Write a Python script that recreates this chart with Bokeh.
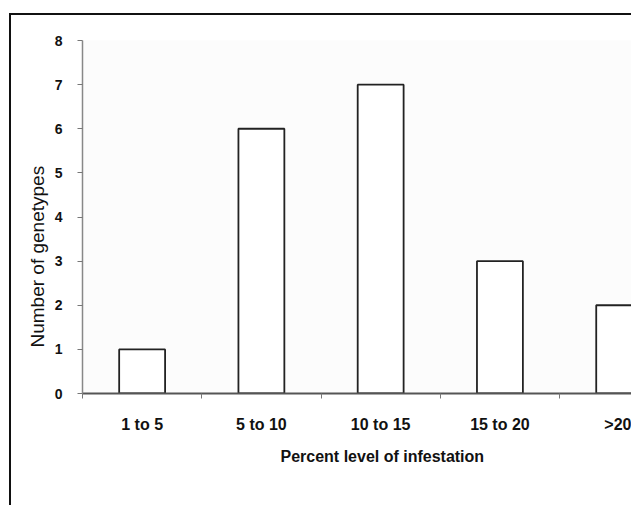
from bokeh.plotting import figure
from bokeh.models import Range1d, FixedTicker, Title, ColumnDataSource
from bokeh.embed import file_html
from bokeh.resources import INLINE

categories = ["1 to 5", "5 to 10", "10 to 15", "15 to 20", ">20"]
counts = [1, 6, 7, 3, 2]
y_ticks = [0, 1, 2, 3, 4, 5, 6, 7, 8]

xs = [i + 1 for i in range(len(categories))]
src = ColumnDataSource(dict(x=xs, top=counts, label=categories))

p = figure(width=622, height=492, output_backend="svg", toolbar_location=None,
           x_range=Range1d(0.5, 5.12), y_range=Range1d(0, 8),
           min_border_left=71, min_border_right=0, min_border_top=25, min_border_bottom=114)
p.styles = {"border-left": "2px solid #111", "border-top": "2px solid #111",
            "margin-left": "9px", "margin-top": "13px"}

p.background_fill_color = "#fcfcfc"
p.border_fill_color = "white"
p.outline_line_color = None
p.grid.visible = False

p.vbar(x="x", top="top", width=0.385, source=src, fill_color="white",
       line_color="#222222", line_width=1.8)

# x axis
xa = p.xaxis[0]
xa.ticker = FixedTicker(ticks=xs, minor_ticks=[i + 0.5 for i in range(len(categories) + 1)])
xa.major_label_overrides = {x: c for x, c in zip(xs, categories)}
xa.major_tick_out = 0
xa.major_tick_in = 0
xa.minor_tick_out = 5
xa.minor_tick_in = 0
xa.minor_tick_line_color = "#777777"
xa.axis_line_color = "#555555"
xa.axis_line_width = 2
xa.major_label_standoff = 17
xa.major_label_text_font = "Liberation Sans"
xa.major_label_text_font_style = "bold"
xa.major_label_text_font_size = "16px"
xa.major_label_text_color = "#111111"

# y axis
ya = p.yaxis[0]
ya.ticker = FixedTicker(ticks=y_ticks, minor_ticks=[])
ya.major_tick_out = 5
ya.major_tick_in = 0
ya.major_tick_line_color = "#777777"
ya.axis_line_color = "#888888"
ya.axis_line_width = 1.5
ya.major_label_standoff = 15
ya.major_label_text_font = "Liberation Sans"
ya.major_label_text_font_style = "bold"
ya.major_label_text_font_size = "14px"
ya.major_label_text_color = "#111111"

xt = Title(text="Percent level of infestation", align="left", offset=198,
           text_font="Liberation Sans", text_font_size="16px", text_font_style="bold",
           text_color="#111111", standoff=20)
p.add_layout(xt, "below")

yt = Title(text="Number of genetypes", align="left", offset=46,
           text_font="Liberation Sans", text_font_size="19px", text_font_style="normal",
           text_color="#111111", standoff=8)
p.add_layout(yt, "left")

open("out.html", "w").write(file_html(p, INLINE))
